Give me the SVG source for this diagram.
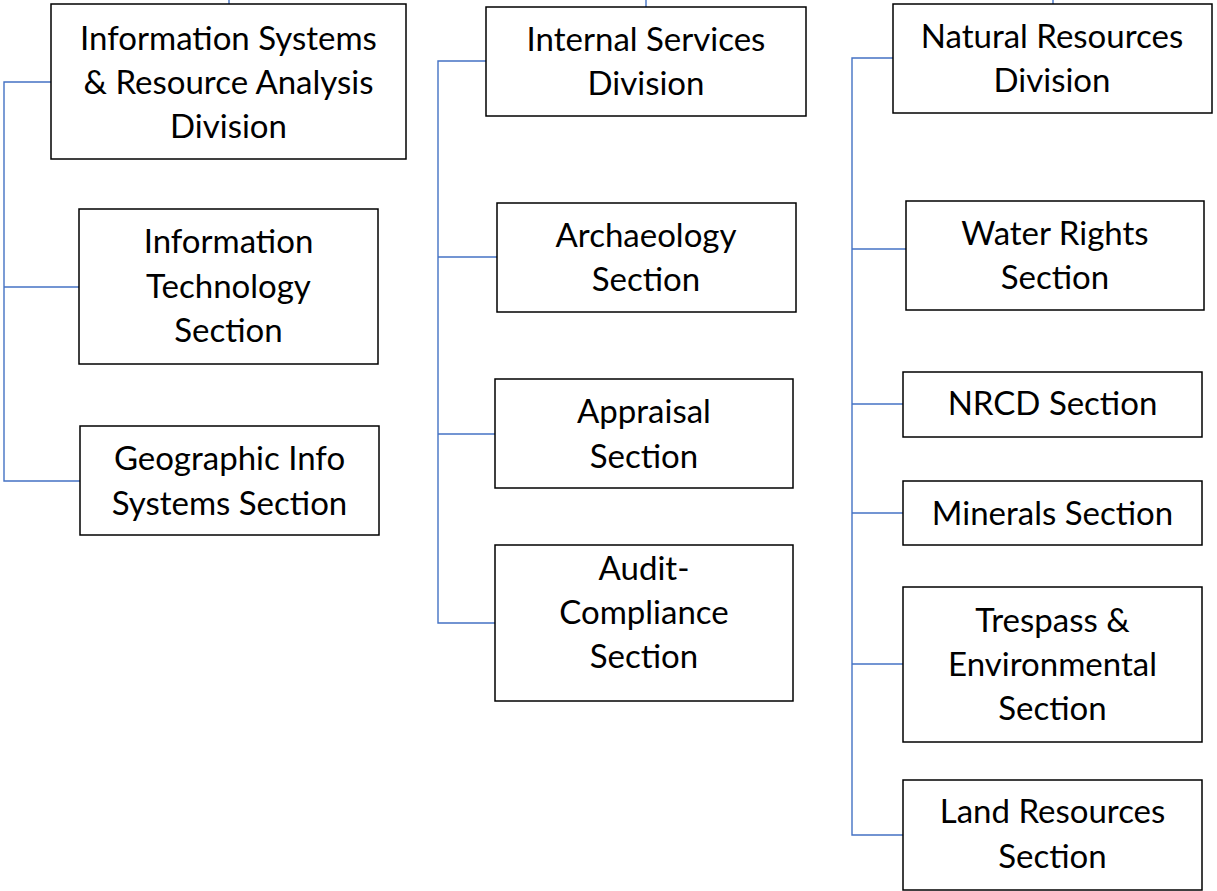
<svg xmlns="http://www.w3.org/2000/svg" width="1217" height="891" viewBox="0 0 1217 891">
  <style>
    .box { fill: #ffffff; stroke: #000000; stroke-width: 1.5; }
    .lbl { font-family: Lato, "Liberation Sans", sans-serif; font-size: 33px; fill: #000000; text-anchor: middle; }
    .conn { fill: none; stroke: #4472C4; stroke-width: 1.4; }
  </style>
  <rect width="1217" height="891" fill="#ffffff"/>

  <!-- connectors -->
  <g id="connectors">
    <!-- stubs to parent above -->
    <path class="conn" d="M229,0 V4"/>
    <path class="conn" d="M646,0 V7"/>
    <path class="conn" d="M1053,0 V4"/>
    <!-- Information Systems & Resource Analysis branch -->
    <path class="conn" d="M51,82 H4 V481 H80"/>
    <path class="conn" d="M4,287 H79"/>
    <!-- Internal Services branch -->
    <path class="conn" d="M486,61 H438 V623 H495"/>
    <path class="conn" d="M438,257 H497"/>
    <path class="conn" d="M438,434 H495"/>
    <!-- Natural Resources branch -->
    <path class="conn" d="M893,58 H852 V835 H903"/>
    <path class="conn" d="M852,249 H906"/>
    <path class="conn" d="M852,404 H903"/>
    <path class="conn" d="M852,513 H903"/>
    <path class="conn" d="M852,664 H903"/>
  </g>

  <g id="isra-division">
    <rect class="box" x="51" y="4" width="355" height="155"/>
    <text class="lbl" x="228.5" y="50">Information Systems</text>
    <text class="lbl" x="228.5" y="94">&amp; Resource Analysis</text>
    <text class="lbl" x="228.5" y="138">Division</text>
  </g>
  <g id="it-section">
    <rect class="box" x="79" y="209" width="299" height="155"/>
    <text class="lbl" x="228.5" y="253">Information</text>
    <text class="lbl" x="228.5" y="298">Technology</text>
    <text class="lbl" x="228.5" y="342">Section</text>
  </g>
  <g id="gis-section">
    <rect class="box" x="80" y="426" width="299" height="109"/>
    <text class="lbl" x="229.5" y="470">Geographic Info</text>
    <text class="lbl" x="229.5" y="515">Systems Section</text>
  </g>

  <g id="internal-services-division">
    <rect class="box" x="486" y="7" width="320" height="109"/>
    <text class="lbl" x="646" y="51">Internal Services</text>
    <text class="lbl" x="646" y="95">Division</text>
  </g>
  <g id="archaeology-section">
    <rect class="box" x="497" y="203" width="299" height="109"/>
    <text class="lbl" x="646" y="247">Archaeology</text>
    <text class="lbl" x="646" y="291">Section</text>
  </g>
  <g id="appraisal-section">
    <rect class="box" x="495" y="379" width="298" height="109"/>
    <text class="lbl" x="644" y="423">Appraisal</text>
    <text class="lbl" x="644" y="468">Section</text>
  </g>
  <g id="audit-section">
    <rect class="box" x="495" y="545" width="298" height="156"/>
    <text class="lbl" x="644" y="580">Audit-</text>
    <text class="lbl" x="644" y="624">Compliance</text>
    <text class="lbl" x="644" y="668">Section</text>
  </g>

  <g id="natural-resources-division">
    <rect class="box" x="893" y="4" width="319" height="109"/>
    <text class="lbl" x="1052" y="48">Natural Resources</text>
    <text class="lbl" x="1052" y="92">Division</text>
  </g>
  <g id="water-rights-section">
    <rect class="box" x="906" y="201" width="298" height="109"/>
    <text class="lbl" x="1055" y="245">Water Rights</text>
    <text class="lbl" x="1055" y="289">Section</text>
  </g>
  <g id="nrcd-section">
    <rect class="box" x="903" y="372" width="299" height="65"/>
    <text class="lbl" x="1052.5" y="415">NRCD Section</text>
  </g>
  <g id="minerals-section">
    <rect class="box" x="903" y="481" width="299" height="64"/>
    <text class="lbl" x="1052.5" y="525">Minerals Section</text>
  </g>
  <g id="trespass-section">
    <rect class="box" x="903" y="587" width="299" height="155"/>
    <text class="lbl" x="1052.5" y="632">Trespass &amp;</text>
    <text class="lbl" x="1052.5" y="676">Environmental</text>
    <text class="lbl" x="1052.5" y="720">Section</text>
  </g>
  <g id="land-resources-section">
    <rect class="box" x="903" y="780" width="299" height="110"/>
    <text class="lbl" x="1052.5" y="823">Land Resources</text>
    <text class="lbl" x="1052.5" y="868">Section</text>
  </g>
</svg>
